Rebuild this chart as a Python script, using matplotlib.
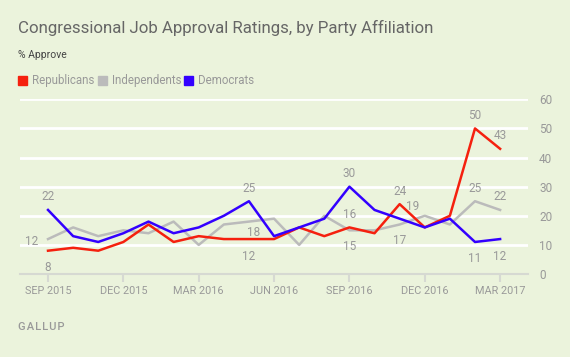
"""Congressional job approval by party (Gallup style)"""

import matplotlib.pyplot as plt

months = ["SEP 2015", "OCT 2015", "NOV 2015", "DEC 2015", "JAN 2016", "FEB 2016",
          "MAR 2016", "APR 2016", "MAY 2016", "JUN 2016", "JUL 2016", "AUG 2016",
          "SEP 2016", "OCT 2016", "NOV 2016", "DEC 2016", "JAN 2017", "FEB 2017",
          "MAR 2017"]
republicans = [8, 9, 8, 11, 17, 11, 13, 12, 12, 12, 16, 13, 16, 14, 24, 16, 20, 50, 43]
independents = [12, 16, 13, 15, 14, 18, 10, 17, 18, 19, 10, 20, 15, 15, 17, 20, 17, 25, 22]
democrats = [22, 13, 11, 14, 18, 14, 16, 20, 25, 13, 16, 19, 30, 22, 19, 16, 19, 11, 12]

# value labels: (month index, value, dx px, dy px)
labels = [
    (0, 22, 0, 13), (0, 12, -16, -2), (0, 8, 0, -17),
    (8, 25, 0, 13), (8, 18, 5, -11), (8, 12, 0, -17),
    (12, 30, 0, 13), (12, 16, 0, 13), (12, 15, 0, -16),
    (14, 24, 0, 13), (14, 19, 13, 12), (14, 17, 0, -16),
    (17, 50, 0, 13), (17, 25, 0, 13), (17, 11, 0, -17),
    (18, 43, 0, 13), (18, 22, 0, 13), (18, 12, 0, -17),
]

BG = "#ebf3dc"
RED = "#f5200e"
GRAY = "#bbbbbb"
BLUE = "#3300ff"
TEXT = "#999999"

plt.rcParams["font.family"] = ["Roboto", "DejaVu Sans"]

fig = plt.figure(figsize=(5.7, 3.57), dpi=100, facecolor=BG)
ax = fig.add_axes([0.0351, 0.2325, 0.8912, 0.4893], facecolor=BG)

x = list(range(len(months)))
ax.set_xlim(-1.115, 19.11)
ax.set_ylim(0, 60)

for y in range(10, 70, 10):
    ax.axhline(y, color="white", lw=2, zorder=1)

ax.plot(x, independents, color=GRAY, lw=1.8, zorder=3)
ax.plot(x, republicans, color=RED, lw=1.8, zorder=4)
ax.plot(x, democrats, color=BLUE, lw=1.8, zorder=5)

for i, v, dx, dy in labels:
    ax.annotate(str(v), (i, v), xytext=(dx, dy), textcoords="offset pixels",
                ha="center", va="center", fontsize=8.5, color=TEXT, zorder=6)

for s in ["left", "right", "top"]:
    ax.spines[s].set_visible(False)
ax.spines["bottom"].set_color("#d6d9d2")
ax.spines["bottom"].set_linewidth(1.5)

ax.set_xticks(x[::3])
ax.set_xticklabels(months[::3])
ax.tick_params(axis="x", length=6, width=1.5, color="#d6d9d2", labelsize=7.8,
               labelcolor=TEXT, pad=3)
ax.yaxis.tick_right()
ax.set_yticks(range(0, 70, 10))
ax.tick_params(axis="y", length=0, labelsize=8.5, labelcolor=TEXT, pad=8)

fig.text(0.032, 0.922, "Congressional Job Approval Ratings, by Party Affiliation",
         fontsize=12.2, color="#666666", va="center")
fig.text(0.032, 0.846, "% Approve", fontsize=7.5, color="#444444", va="center")

legend = [("Republicans", RED, 0.032), ("Independents", GRAY, 0.172),
          ("Democrats", BLUE, 0.323)]
for name, col, lx in legend:
    fig.patches.append(plt.Rectangle((lx, 0.762), 0.0158, 0.025, color=col,
                                     transform=fig.transFigure, figure=fig))
    fig.text(lx + 0.0246, 0.775, name, fontsize=8.3, color=TEXT, va="center")

fig.text(0.032, 0.085, "\u200a".join("GALLUP"), fontsize=8, color=TEXT,
         va="center", fontweight="medium")

fig.savefig("out.png", dpi=100, facecolor=BG)
